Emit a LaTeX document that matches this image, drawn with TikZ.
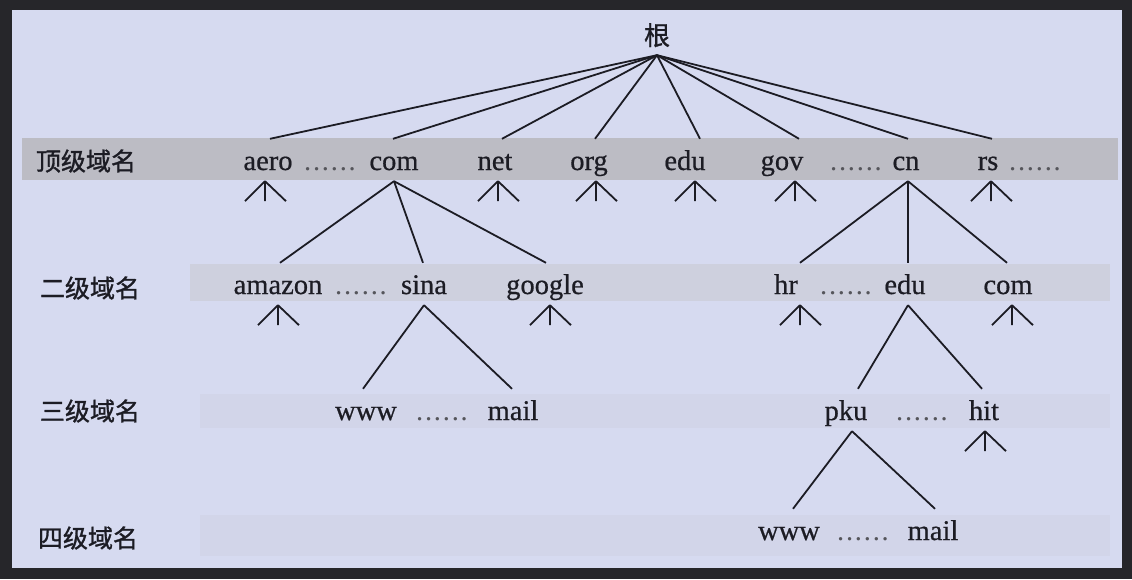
\documentclass[tikz,border=0pt]{standalone}
\usepackage{fontspec}
\setmainfont{Liberation Serif}
\newfontfamily\domfont[FakeBold=0.6]{Liberation Serif}
\newfontfamily\cjk[FakeBold=1.2]{Noto Sans CJK SC}
\definecolor{frame}{RGB}{38,38,42}
\definecolor{panel}{RGB}{214,218,240}
\definecolor{bandA}{RGB}{188,188,196}
\definecolor{bandB}{RGB}{206,208,222}
\definecolor{bandC}{RGB}{210,213,233}
\definecolor{ink}{RGB}{28,28,36}
\newcommand\sixdots{.\kern1.8pt.\kern1.8pt.\kern1.8pt.\kern1.8pt.\kern1.8pt.}
\tikzset{
  conn/.style={draw=ink,line width=1.8pt},
  dom/.style={anchor=base,inner sep=0pt,text height=31pt,text depth=11pt,text=ink,font=\domfont\fontsize{28.5}{30}\selectfont},
  gap/.style={anchor=base,inner sep=0pt,text=ink!75,font=\fontsize{28.5}{30}\selectfont},
  lvl/.style={inner sep=0pt,text=ink,font=\cjk\fontsize{25}{27}\selectfont},
  fan/.pic={\draw[conn] (0,0) -- (-20,20) (0,0) -- (0,20) (0,0) -- (21,20);}
}
\begin{document}
\begin{tikzpicture}[x=1pt,y=-1pt]
\useasboundingbox (0,0) rectangle (1132,579);
\fill[frame] (0,0) rectangle (1132,579);
\fill[panel] (12,10) rectangle (1122,568);
\fill[bandA] (22,138) rectangle (1118,180);
\fill[bandB] (190,264) rectangle (1110,301);
\fill[bandC] (200,394) rectangle (1110,428);
\fill[bandC] (200,515) rectangle (1110,556);

% level labels
\node[lvl] (L1) at (86,161) {顶级域名};
\node[lvl] (L2) at (90,288) {二级域名};
\node[lvl] (L3) at (90,411) {三级域名};
\node[lvl] (L4) at (88,538) {四级域名};

% root
\node[anchor=base,inner sep=0pt,text depth=10pt,text=ink,font=\cjk\fontsize{26}{28}\selectfont] (root) at (657,45) {根};

% top level
\node[dom] (aero) at (268,170) {aero};
\node[gap] (d1) at (330,170) {\sixdots};
\node[dom] (com) at (394,170) {com};
\node[dom] (net) at (495,170) {net};
\node[dom] (org) at (589,170) {org};
\node[dom] (edu) at (685,170) {edu};
\node[dom] (gov) at (782,170) {gov};
\node[gap] (d2) at (856,170) {\sixdots};
\node[dom] (cn) at (906,170) {cn};
\node[dom] (rs) at (988,170) {rs};
\node[gap] (d3) at (1035,170) {\sixdots};

% second level
\node[dom] (amazon) at (278,294) {amazon};
\node[gap] (d4) at (361,294) {\sixdots};
\node[dom] (sina) at (424,294) {sina};
\node[dom] (google) at (545,294) {google};
\node[dom] (hr) at (786,294) {hr};
\node[gap] (d5) at (846,294) {\sixdots};
\node[dom] (cnedu) at (905,294) {edu};
\node[dom] (cncom) at (1008,294) {com};

% third level
\node[dom] (www1) at (366,420) {www};
\node[gap] (d6) at (442,420) {\sixdots};
\node[dom] (mail1) at (513,420) {mail};
\node[dom] (pku) at (846,420) {pku};
\node[gap] (d7) at (922,420) {\sixdots};
\node[dom] (hit) at (984,420) {hit};

% fourth level
\node[dom] (www2) at (789,540) {www};
\node[gap] (d8) at (863,540) {\sixdots};
\node[dom] (mail2) at (933,540) {mail};

% root connectors
\draw[conn] (root.south) -- ([xshift=2pt]aero.north);
\draw[conn] (root.south) -- ([xshift=-1pt]com.north);
\draw[conn] (root.south) -- ([xshift=7pt]net.north);
\draw[conn] (root.south) -- ([xshift=6pt]org.north);
\draw[conn] (root.south) -- ([xshift=15pt]edu.north);
\draw[conn] (root.south) -- ([xshift=17pt]gov.north);
\draw[conn] (root.south) -- ([xshift=2pt]cn.north);
\draw[conn] (root.south) -- ([xshift=4pt]rs.north);

% com subtree
\draw[conn] (com.south) -- ([xshift=2pt]amazon.north);
\draw[conn] (com.south) -- ([xshift=-1pt]sina.north);
\draw[conn] (com.south) -- ([xshift=1pt]google.north);
\draw[conn] (sina.south) -- ([xshift=-3pt]www1.north);
\draw[conn] (sina.south) -- ([xshift=-1pt]mail1.north);

% cn subtree
\draw[conn] ([xshift=2pt]cn.south) -- ([xshift=14pt]hr.north);
\draw[conn] ([xshift=2pt]cn.south) -- ([xshift=3pt]cnedu.north);
\draw[conn] ([xshift=2pt]cn.south) -- ([xshift=-1pt]cncom.north);
\draw[conn] ([xshift=3pt]cnedu.south) -- ([xshift=12pt]pku.north);
\draw[conn] ([xshift=3pt]cnedu.south) -- ([xshift=-2pt]hit.north);
\draw[conn] ([xshift=6pt]pku.south) -- ([xshift=4pt]www2.north);
\draw[conn] ([xshift=6pt]pku.south) -- ([xshift=2pt]mail2.north);

% open-branch marks
\pic at ([xshift=-3pt]aero.south) {fan};
\pic at ([xshift=3pt]net.south) {fan};
\pic at ([xshift=7pt]org.south) {fan};
\pic at ([xshift=10pt]edu.south) {fan};
\pic at ([xshift=13pt]gov.south) {fan};
\pic at ([xshift=3pt]rs.south) {fan};
\pic at (amazon.south) {fan};
\pic at ([xshift=5pt]google.south) {fan};
\pic at ([xshift=14pt]hr.south) {fan};
\pic at ([xshift=4pt]cncom.south) {fan};
\pic at ([xshift=1pt]hit.south) {fan};
\end{tikzpicture}
\end{document}
